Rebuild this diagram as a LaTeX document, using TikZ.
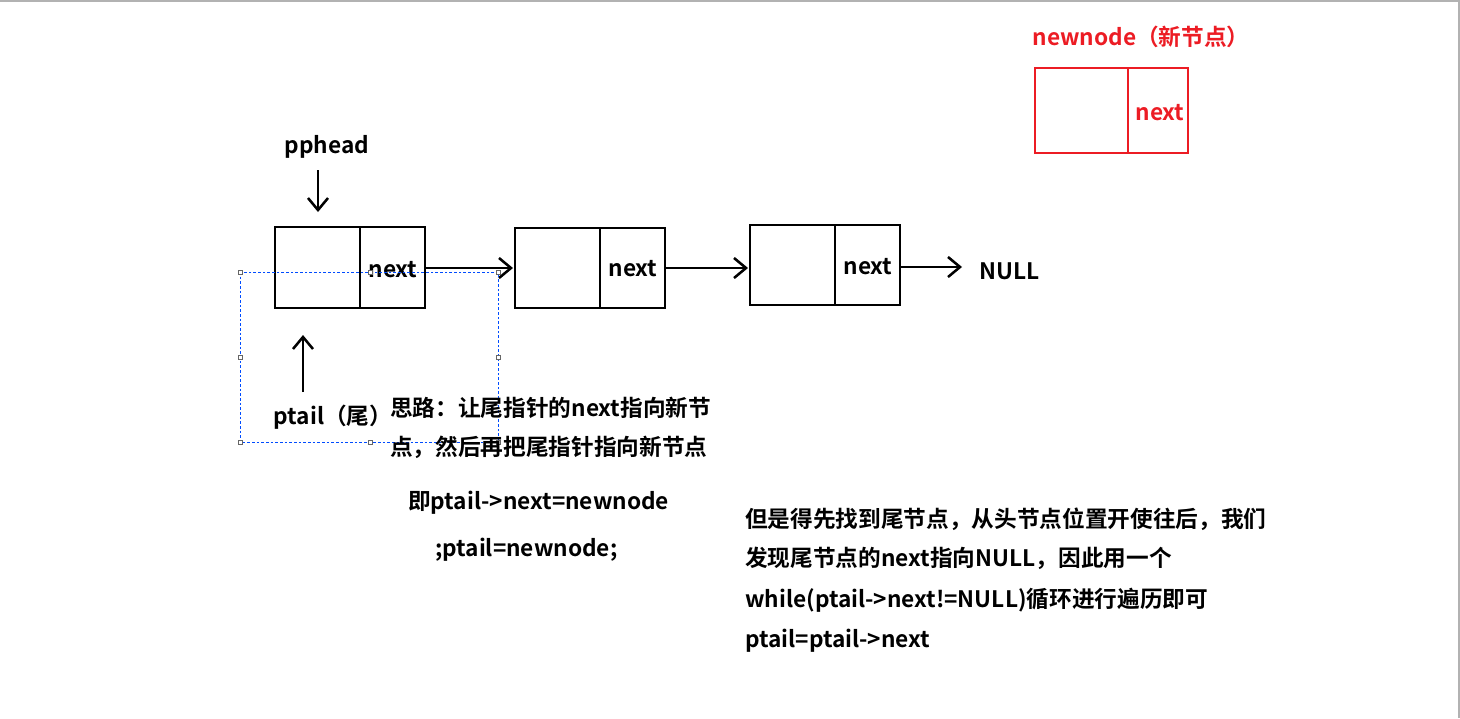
\documentclass[tikz,border=0pt]{standalone}
\usepackage{fontspec}
\setmainfont{Noto Sans CJK SC Bold}
\usetikzlibrary{arrows.meta}
\definecolor{myred}{RGB}{236,28,36}
\begin{document}
\begin{tikzpicture}[x=0.75pt,y=-0.75pt,
  box/.style={draw,line width=2pt},
  redbox/.style={draw=myred,line width=2pt},
  arr/.style={line width=1.9pt,-{Straight Barb[length=9pt,width=15pt,line width=1.9pt]}},
  txt/.style={font=\fontsize{17}{20}\selectfont,inner sep=0pt},
  ltxt/.style={txt,anchor=west},
  handle/.style={draw=black!60,fill=white,line width=0.4pt,minimum size=3pt,inner sep=0pt}]
\useasboundingbox (0,0) rectangle (1460,718);
\draw[black!30,line width=0.8pt] (0,1) -- (1459,1) -- (1459,718);
% nodes
\draw[box] (275,227) rectangle (425,308); \draw[box] (360,227) -- (360,308);
\draw[box] (515,228) rectangle (665,308); \draw[box] (600,228) -- (600,308);
\draw[box] (750,225) rectangle (900,305); \draw[box] (835,225) -- (835,305);
\draw[redbox] (1035,68) rectangle (1188,153); \draw[redbox] (1128,68) -- (1128,153);
\node[txt] (n1) at (393,270) {next};
\node[txt] (n2) at (633,269) {next};
\node[txt] (n3) at (868,267) {next};
\node[txt,text=myred] (n4) at (1160,113) {next};
\node[txt,text=myred] (nn) at (1141,37) {newnode（新节点）};
\node[txt] (null) at (1010,271) {NULL};
\node[txt] (pp) at (327,147) {pphead};
\node[txt] (pt) at (333,417) {ptail（尾）};
\coordinate (a1) at (425,268); \coordinate (b1) at (513,268);
\coordinate (a2) at (665,268); \coordinate (b2) at (748,268);
\coordinate (a3) at (900,267); \coordinate (b3) at (962,267);
\coordinate (p1) at (318,170); \coordinate (p2) at (318,212);
\coordinate (t1) at (303,392); \coordinate (t2) at (303,335);
\draw[arr] (a1) -- (b1);
\draw[arr] (a2) -- (b2);
\draw[arr] (a3) -- (b3);
\draw[arr] (p1) -- (p2);
\draw[arr] (t1) -- (t2);
% selection box
\draw[blue!70!cyan,line width=0.6pt,dash pattern=on 2pt off 1.5pt] (240,272) rectangle (498,442);
\foreach \p in {(240,272),(370,272),(498,272),(240,357),(498,357),(240,442),(370,442),(498,442)}
  \node[handle] at \p {};
% texts
\node[ltxt] (s1) at (390,408) {思路：让尾指针的next指向新节};
\node[ltxt] (s2) at (390,447) {点，然后再把尾指针指向新节点};
\node[ltxt] (s3) at (408,503) {即ptail->next=newnode};
\node[ltxt] (s4) at (435,550) {;ptail=newnode;};
\node[ltxt] (r1) at (745,519) {但是得先找到尾节点，从头节点位置开使往后，我们};
\node[ltxt] (r2) at (745,558) {发现尾节点的next指向NULL，因此用一个};
\node[ltxt] (r3) at (745,600) {while(ptail->next!=NULL)循环进行遍历即可};
\node[ltxt] (r4) at (745,641) {ptail=ptail->next};
\end{tikzpicture}
\end{document}
